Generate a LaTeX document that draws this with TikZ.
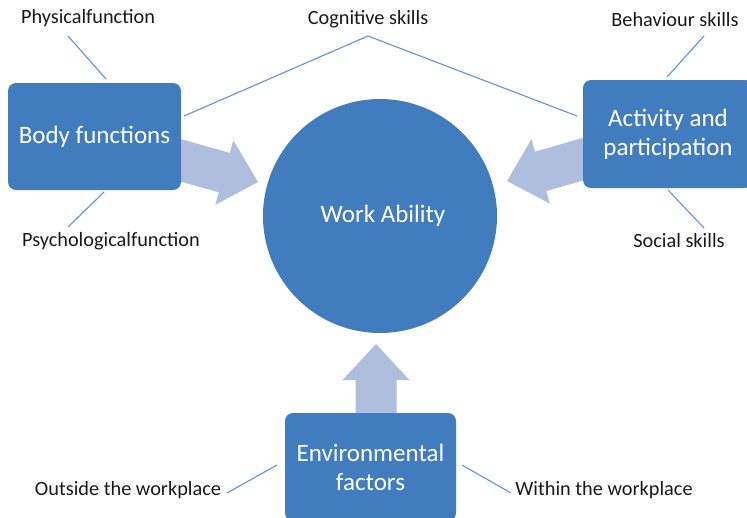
\documentclass[tikz,border=0pt]{standalone}
\usepackage{fontspec}
\setmainfont{Carlito}
\definecolor{boxblue}{RGB}{65,124,190}
\definecolor{arrowblue}{RGB}{174,190,220}
\definecolor{lineblue}{RGB}{98,146,208}
\definecolor{labeltext}{RGB}{25,25,25}
\begin{document}
\begin{tikzpicture}[x=1pt,y=-1pt,
  box/.style={fill=boxblue, draw=none, rounded corners=8pt, text=white, align=center,
    inner sep=0pt, font=\fontsize{25}{29}\selectfont},
  hub/.style={circle, fill=boxblue, draw=none, text=white, inner sep=0pt,
    font=\fontsize{25}{29}\selectfont},
  lbl/.style={inner sep=0pt, text=labeltext, font=\fontsize{20.3}{24}\selectfont},
  tie/.style={draw=lineblue, line width=1.1pt},
  flow/.style={fill=arrowblue, draw=none}]
\useasboundingbox (0,0) rectangle (747,517);
\clip (0,0) rectangle (747,517);

% tips of the three block arrows
\coordinate (tipL) at (258,182);
\coordinate (tipR) at (507,181);
\coordinate (tipB) at (376,344);

% block arrows (drawn first, so the boxes cover their tails)
\fill[flow, shift={(tipL)}, rotate=-15.6]
  (0,0) -- (-35,-33.5) -- (-35,-20.5) -- (-95,-20.5) -- (-95,20.5) -- (-35,20.5) -- (-35,33.5) -- cycle;
\fill[flow, shift={(tipR)}, rotate=196]
  (0,0) -- (-35,-33.5) -- (-35,-20.5) -- (-95,-20.5) -- (-95,20.5) -- (-35,20.5) -- (-35,33.5) -- cycle;
\fill[flow, shift={(tipB)}, rotate=90]
  (0,0) -- (-36,-33.5) -- (-36,-20.5) -- (-90,-20.5) -- (-90,20.5) -- (-36,20.5) -- (-36,33.5) -- cycle;

% main shapes
\node[hub, minimum size=234pt] (work) at (380,216) {};
\node[text=white, inner sep=0pt, font=\fontsize{25}{29}\selectfont] (worktext) at (383,216) {Work Ability};
\node[box, minimum width=173pt, minimum height=107pt] (body) at (94.5,136.5) {Body functions};
\node[box, minimum width=170pt, minimum height=108pt] (act) at (668,134) {Activity and\\participation};
\node[box, minimum width=171pt, minimum height=108pt] (env) at (370.5,467) {Environmental\\factors};

% labels
\node[lbl] (phys)   at (88,18)   {Physicalfunction};
\node[lbl] (psych)  at (111,241) {Psychologicalfunction};
\node[lbl] (cogn)   at (368,19)  {Cognitive skills};
\node[lbl] (behav)  at (675,20)  {Behaviour skills};
\node[lbl] (social) at (679,241) {Social skills};
\node[lbl] (out)    at (128,490) {Outside the workplace};
\node[lbl] (within) at (604,490) {Within the workplace};

% end points of the thin ties
\coordinate (physA) at (68,36);   \coordinate (physB) at (106,79);
\coordinate (psyA)  at (104,192); \coordinate (psyB)  at (68,227);
\coordinate (cogL)  at (184,116); \coordinate (cogT)  at (368,36); \coordinate (cogR) at (577,116);
\coordinate (behA)  at (704,36);  \coordinate (behB)  at (667,77);
\coordinate (socA)  at (668,190); \coordinate (socB)  at (704,228);
\coordinate (outA)  at (227,493); \coordinate (outB)  at (277,465);
\coordinate (winA)  at (462,465); \coordinate (winB)  at (511,493);

\draw[tie] (physA) -- (physB);
\draw[tie] (psyA) -- (psyB);
\draw[tie] (cogL) -- (cogT) -- (cogR);
\draw[tie] (behA) -- (behB);
\draw[tie] (socA) -- (socB);
\draw[tie] (outA) -- (outB);
\draw[tie] (winA) -- (winB);
\end{tikzpicture}
\end{document}
